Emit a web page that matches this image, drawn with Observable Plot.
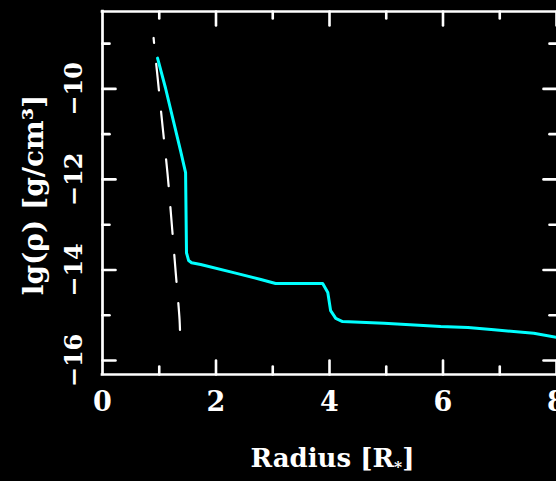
<!DOCTYPE html>
<html><head><meta charset="utf-8">
<script src="https://cdn.jsdelivr.net/npm/d3@7"></script>
<script src="https://cdn.jsdelivr.net/npm/@observablehq/plot@0.6"></script>
<style>html,body{margin:0;padding:0;background:#000;} svg{display:block}</style>
</head><body><div id="chart"></div>
<script>
// Cyan solid curve: radius [R*] and lg(rho)
const solidRadius = [0.97, 1.11, 1.25, 1.376, 1.464, 1.48, 1.517, 1.57, 1.73, 2.31, 2.79, 3.05, 3.88, 3.97, 4.02, 4.11, 4.23, 4.96, 5.96, 6.44, 6.90, 7.60, 8.0];
const solidLogRho = [-9.32, -9.98, -10.71, -11.37, -11.85, -13.62, -13.79, -13.84, -13.88, -14.06, -14.21, -14.30, -14.30, -14.50, -14.90, -15.07, -15.14, -15.18, -15.25, -15.27, -15.32, -15.40, -15.49];
// White dashed curve
const dashRadius = [0.90, 0.97, 1.058, 1.146, 1.217, 1.287, 1.358, 1.367];
const dashLogRho = [-8.875, -9.735, -10.82, -11.875, -12.93, -14.01, -15.10, -15.40];

const xTickLabels = [0, 2, 4, 6, 8];
const yTickLabels = [-16, -14, -12, -10];
const xMajorTicks = [2, 4, 6, 8];
const xMinorTicks = [1, 3, 5, 7];
const yMajorTicks = [-16, -14, -12, -10];
const yMinorTicks = [-15, -13, -11, -9];
const xDomain = [0, 8];
const yDomain = [-16.31, -8.29];
const xTitle = "Radius [R*]";
const yTitle = "lg(ρ) [g/cm³]";

const solid = solidRadius.map((r, i) => ({r, v: solidLogRho[i]}));
const dashed = dashRadius.map((r, i) => ({r, v: dashLogRho[i]}));

const font = "DejaVu Serif";
const tickShape = {draw(context, l) { context.moveTo(0, 0); context.lineTo(0, -l); }};
const tickOpts = (extra) => Object.assign({shape: tickShape, anchor: "start", stroke: "white", fill: "none", strokeWidth: 2.6}, extra);

const chart = Plot.plot({
  width: 556,
  height: 481,
  marginLeft: 102,
  marginRight: 0,
  marginTop: 11,
  marginBottom: 107,
  style: {background: "#000", color: "white", fontFamily: font},
  x: {domain: xDomain, axis: null},
  y: {domain: yDomain, axis: null},
  marks: [
    // frame
    Plot.ruleY([yDomain[0], yDomain[1]], {x1: xDomain[0], x2: xDomain[1], stroke: "white", strokeWidth: 2.7, strokeLinecap: "square"}),
    Plot.ruleX([xDomain[0]], {y1: yDomain[0], y2: yDomain[1], stroke: "white", strokeWidth: 2.7, strokeLinecap: "square"}),
    // bottom ticks (inward)
    Plot.vector(xMajorTicks, tickOpts({x: d => d, y: yDomain[0], length: 14, rotate: 0})),
    Plot.vector(xMinorTicks, tickOpts({x: d => d, y: yDomain[0], length: 8, rotate: 0})),
    // top ticks
    Plot.vector(xMajorTicks, tickOpts({x: d => d, y: yDomain[1], length: 14, rotate: 180})),
    Plot.vector(xMinorTicks, tickOpts({x: d => d, y: yDomain[1], length: 7, rotate: 180})),
    // left ticks
    Plot.vector(yMajorTicks, tickOpts({y: d => d, x: xDomain[0], length: 13, rotate: 90})),
    Plot.vector(yMinorTicks, tickOpts({y: d => d, x: xDomain[0], length: 7, rotate: 90})),
    // right ticks
    Plot.vector(yMajorTicks, tickOpts({y: d => d, x: xDomain[1], length: 13, rotate: -90})),
    Plot.vector(yMinorTicks, tickOpts({y: d => d, x: xDomain[1], length: 7, rotate: -90})),
    // tick labels
    Plot.text(xTickLabels, {x: d => d, y: yDomain[0], text: d => String(d), dy: 28, lineAnchor: "middle", textAnchor: "middle", fill: "white", fontSize: 27, fontWeight: "bold", fontFamily: font}),
    Plot.text(yTickLabels, {y: d => d, x: xDomain[0], text: d => (d < 0 ? "\u2212" : "") + Math.abs(d), dx: -28, rotate: -90, lineAnchor: "middle", textAnchor: "middle", fill: "white", fontSize: 24, fontWeight: "bold", fontFamily: font}),
    // axis titles
    Plot.text([xTitle], {frameAnchor: "bottom", text: d => d, dx: 3, dy: 84, lineAnchor: "middle", textAnchor: "middle", fill: "white", fontSize: 26, fontWeight: "bold", fontFamily: font}),
    Plot.text([yTitle], {frameAnchor: "left", text: d => d, dx: -68, dy: 2, rotate: -90, lineAnchor: "middle", textAnchor: "middle", fill: "white", fontSize: 28, fontWeight: "bold", fontFamily: font}),
    // data
    Plot.line(dashed, {x: "r", y: "v", stroke: "white", strokeWidth: 2.2, strokeDasharray: "27,21", strokeDashoffset: 22, curve: "catmull-rom"}),
    Plot.line(solid, {x: "r", y: "v", stroke: "#00ffff", strokeWidth: 3, curve: "linear"})
  ]
});

// subscript asterisk for R*
d3.select(chart).selectAll("text").each(function() {
  const t = d3.select(this);
  if (t.text() === xTitle) {
    t.text(null);
    t.append("tspan").text("Radius [R");
    t.append("tspan").attr("dy", "0.3em").attr("font-size", "0.6em").text("*");
    t.append("tspan").attr("dy", "-0.18em").text("]");
  }
});

document.getElementById("chart").appendChild(chart);
</script>
</body></html>
